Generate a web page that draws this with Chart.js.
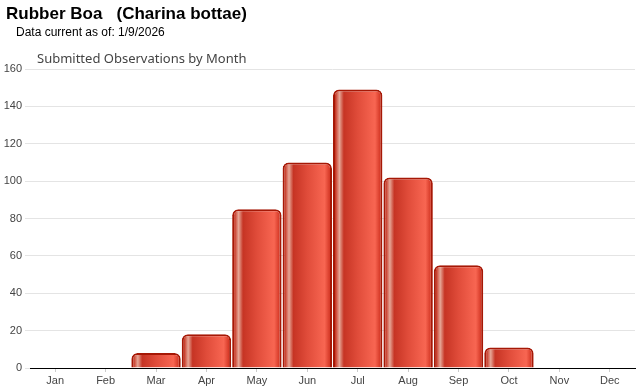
<!DOCTYPE html>
<html>
<head>
<meta charset="utf-8">
<script src="https://cdn.jsdelivr.net/npm/chart.js@4"></script>
<style>
  body { margin: 0; background: #fff; }
  #wrap { position: relative; width: 640px; height: 390px; }
  #title { position: absolute; left: 6px; top: 4px; font: bold 17px "Liberation Sans", Arial, sans-serif; color: #000; white-space: pre; }
  #sub { position: absolute; left: 16px; top: 25px; font: 12px "Liberation Sans", Arial, sans-serif; color: #000; }
  #ctitle { position: absolute; left: 37px; top: 49px; font: 13px "Noto Sans", sans-serif; color: #444; }
</style>
</head>
<body>
<div id="wrap">
  <canvas id="myChart" width="640" height="390"></canvas>
  <div id="title">Rubber Boa   (Charina bottae)</div>
  <div id="sub">Data current as of: 1/9/2026</div>
  <div id="ctitle">Submitted Observations by Month</div>
</div>
<script>
let months = ['Jan', 'Feb', 'Mar', 'Apr', 'May', 'Jun', 'Jul', 'Aug', 'Sep', 'Oct', 'Nov', 'Dec'];
let observations = [0, 0, 8, 18, 85, 110, 149, 102, 55, 11, 0, 0];
let yTicks = [0, 20, 40, 60, 80, 100, 120, 140, 160];

function barGradient(context) {
  let chart = context.chart;
  let xScale = chart.scales.x;
  if (!xScale || !chart.chartArea) {
    return '#d84030';
  }
  let step = (xScale.right - xScale.left) / months.length;
  let center = xScale.getPixelForValue(context.dataIndex);
  let x0 = center - step * 0.49;
  let x1 = center + step * 0.49;
  let g = chart.ctx.createLinearGradient(x0, 0, x1, 0);
  g.addColorStop(0, '#b01c0a');
  g.addColorStop(0.05, '#c83a28');
  g.addColorStop(0.13, '#e6a696');
  g.addColorStop(0.22, '#c63424');
  g.addColorStop(0.5, '#e04c3a');
  g.addColorStop(0.85, '#f86652');
  g.addColorStop(0.95, '#d63a28');
  g.addColorStop(1, '#a81808');
  return g;
}

let canvas = document.getElementById('myChart');

new Chart(canvas, {
  type: 'bar',
  data: {
    labels: months,
    datasets: [{
      label: 'Observations',
      data: observations,
      backgroundColor: barGradient,
      borderColor: '#a61806',
      borderWidth: 2,
      borderRadius: 6,
      borderSkipped: 'bottom',
      categoryPercentage: 1,
      barPercentage: 0.98
    }]
  },
  options: {
    responsive: false,
    animation: false,
    layout: {
      padding: { top: 69, right: 5, left: 0, bottom: 0 }
    },
    plugins: {
      legend: { display: false },
      tooltip: { enabled: false }
    },
    scales: {
      x: {
        grid: {
          offset: false,
          drawOnChartArea: false,
          tickLength: 4,
          color: '#cccccc'
        },
        border: { color: '#000000', width: 1 },
        ticks: {
          color: '#444',
          font: { family: 'Liberation Sans', size: 11 },
          padding: 2,
          maxRotation: 0
        },
        afterFit: function(scale) { scale.height = 22; }
      },
      y: {
        min: 0,
        max: 160,
        afterBuildTicks: function(scale) {
          scale.ticks = yTicks.map(v => ({ value: v }));
        },
        grid: {
          color: '#e4e4e4',
          tickLength: 5
        },
        border: { display: false },
        ticks: {
          color: '#444',
          font: { family: 'Liberation Sans', size: 11 },
          padding: 3
        },
        afterFit: function(scale) { scale.width = 30; }
      }
    }
  }
});
</script>
</body>
</html>
